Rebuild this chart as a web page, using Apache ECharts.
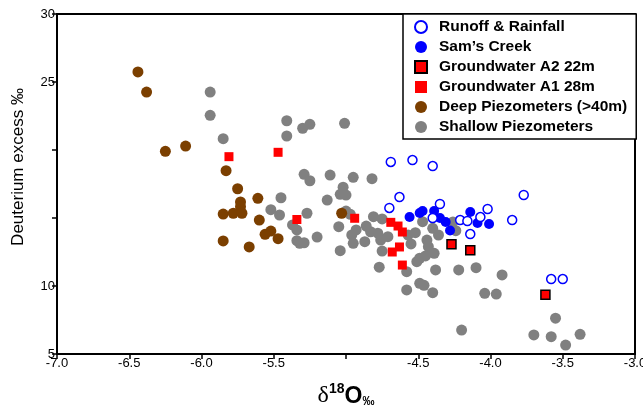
<!DOCTYPE html>
<html>
<head>
    <meta charset="utf-8">
    <title>Deuterium excess vs d18O</title>
    <script src="https://cdn.jsdelivr.net/npm/echarts@6/dist/echarts.min.js"></script>
    <style>
        html, body { margin: 0; padding: 0; background: #fff; }
        #chart { width: 643px; height: 410px; }
    </style>
</head>
<body>
<div id="chart"></div>
<script>
    // [d18O, d-excess]
    var shallow = [
        [-5.94, 24.26], [-5.94, 22.55], [-5.85, 20.83], [-5.41, 22.15], [-5.30, 21.60],
        [-5.25, 21.89], [-5.41, 21.03], [-5.01, 21.96], [-5.29, 18.21], [-5.25, 17.74],
        [-5.11, 18.16], [-4.95, 17.99], [-4.82, 17.89], [-5.02, 17.26], [-5.04, 16.74],
        [-5.00, 16.69], [-5.13, 16.32], [-5.45, 16.49], [-5.52, 15.61], [-5.46, 15.22],
        [-5.27, 15.35], [-5.37, 14.49], [-5.34, 14.12], [-5.34, 13.33], [-5.32, 13.14],
        [-5.29, 13.18], [-5.20, 13.60], [-5.00, 15.51], [-4.97, 15.27], [-4.81, 15.10],
        [-4.75, 14.93], [-5.05, 14.36], [-4.93, 14.12], [-4.86, 14.41], [-4.83, 13.99],
        [-4.96, 13.75], [-4.95, 13.14], [-4.87, 13.26], [-4.78, 13.88], [-4.71, 13.63],
        [-4.76, 13.38], [-4.55, 13.09], [-4.57, 13.75], [-4.52, 13.92], [-5.04, 12.60],
        [-4.75, 12.57], [-4.44, 13.38], [-4.43, 12.89], [-4.40, 14.24], [-4.39, 12.40],
        [-4.49, 12.04], [-4.51, 11.79], [-4.45, 12.21], [-4.77, 11.38], [-4.58, 11.05],
        [-4.49, 10.20], [-4.46, 10.05], [-4.40, 9.51], [-4.58, 9.71], [-4.38, 11.18],
        [-4.22, 11.18], [-4.47, 14.73], [-4.36, 13.75], [-4.10, 11.35], [-3.92, 10.81],
        [-4.04, 9.46], [-3.96, 9.41], [-4.20, 6.76], [-3.55, 7.63], [-3.70, 6.40],
        [-3.58, 6.27], [-3.48, 5.66], [-3.38, 6.45], [-4.24, 14.07], [-4.26, 14.71]
    ];
    var deep = [
        [-6.44, 25.74], [-6.38, 24.26], [-6.25, 19.90], [-6.11, 20.29], [-5.83, 18.48],
        [-5.75, 17.15], [-5.61, 16.45], [-5.73, 16.18], [-5.73, 15.83], [-5.85, 15.29],
        [-5.78, 15.35], [-5.72, 15.35], [-5.60, 14.85], [-5.52, 14.04], [-5.56, 13.80],
        [-5.47, 13.48], [-5.85, 13.31], [-5.67, 12.87], [-5.03, 15.35]
    ];
    var gwA1 = [
        [-5.81, 19.51], [-5.47, 19.83], [-5.34, 14.89], [-4.94, 14.98], [-4.69, 14.68],
        [-4.64, 14.41], [-4.61, 13.97], [-4.63, 12.87], [-4.68, 12.50], [-4.61, 11.54]
    ];
    var gwA2 = [[-4.27, 13.07], [-4.14, 12.63], [-3.62, 9.36]];
    var samsCreek = [
        [-4.56, 15.07], [-4.49, 15.37], [-4.47, 15.51], [-4.39, 15.51], [-4.35, 15.00],
        [-4.31, 14.71], [-4.28, 14.08], [-4.14, 15.44], [-4.09, 14.63], [-4.01, 14.56]
    ];
    var runoff = [
        [-4.69, 19.12], [-4.54, 19.26], [-4.40, 18.82], [-4.63, 16.54], [-4.70, 15.74],
        [-4.35, 16.03], [-4.40, 15.00], [-4.21, 14.85], [-4.16, 14.78], [-4.14, 13.82],
        [-4.07, 15.07], [-4.02, 15.66], [-3.85, 14.85], [-3.77, 16.69], [-3.58, 10.51],
        [-3.50, 10.51]
    ];
    var legendNames = ['Runoff & Rainfall', "Sam\u2019s Creek", 'Groundwater A2 22m',
        'Groundwater A1 28m', 'Deep Piezometers (>40m)', 'Shallow Piezometers'];
    var hiddenXLabels = [-5];
    var hiddenYLabels = [15, 20];

    var chart = echarts.init(document.getElementById('chart'));
    var axisFont = { color: '#000', fontSize: 13, fontFamily: 'Arial, Liberation Sans' };

    chart.setOption({
        animation: false,
        grid: {
            left: 57, right: 8, top: 14, bottom: 56,
            outerBoundsMode: 'none',
            containLabel: false,
            show: true, borderColor: '#000', borderWidth: 2
        },
        legend: {
            data: legendNames,
            orient: 'vertical',
            left: 403, top: 14,
            padding: [3, 9, 2, 11],
            itemWidth: 12, itemHeight: 12, itemGap: 0,
            backgroundColor: '#fff',
            borderColor: '#000', borderWidth: 1.5,
            textStyle: {
                color: '#000', fontSize: 15.5, fontWeight: 'bold',
                fontFamily: 'Arial, Liberation Sans', lineHeight: 20,
                padding: [0, 0, 0, 7]
            }
        },
        xAxis: {
            type: 'value', min: -7, max: -3, interval: 0.5,
            name: '{d|\u03b4}{s|18}{o|O}{p|\u2030}',
            nameLocation: 'middle', nameGap: 28,
            nameTextStyle: {
                rich: {
                    d: { fontFamily: 'Liberation Serif, DejaVu Serif', fontSize: 24, color: '#000', verticalAlign: 'bottom', lineHeight: 26 },
                    s: { fontFamily: 'Arial, Liberation Sans', fontSize: 14, fontWeight: 'bold', color: '#000', verticalAlign: 'top', lineHeight: 26 },
                    o: { fontFamily: 'Arial, Liberation Sans', fontSize: 23, fontWeight: 'bold', color: '#000', verticalAlign: 'bottom', lineHeight: 26 },
                    p: { fontFamily: 'Arial, Liberation Sans', fontSize: 12, fontWeight: 'bold', color: '#000', verticalAlign: 'bottom', lineHeight: 26 }
                }
            },
            axisLine: { lineStyle: { color: '#000', width: 2 } },
            axisTick: { length: 5, lineStyle: { color: '#000', width: 1.5 } },
            axisLabel: Object.assign({
                margin: 3,
                formatter: function (v) {
                    return hiddenXLabels.indexOf(v) >= 0 ? '' : v.toFixed(1);
                }
            }, axisFont),
            splitLine: { show: false }
        },
        yAxis: {
            type: 'value', min: 5, max: 30, interval: 5,
            axisLine: { lineStyle: { color: '#000', width: 2 } },
            axisTick: { length: 5, lineStyle: { color: '#000', width: 1.5 } },
            axisLabel: Object.assign({
                margin: 2,
                formatter: function (v) {
                    return hiddenYLabels.indexOf(v) >= 0 ? '' : String(v);
                }
            }, axisFont),
            splitLine: { show: false }
        },
        graphic: [{
            type: 'text',
            x: 18, y: 167,
            rotation: Math.PI / 2,
            style: {
                text: 'Deuterium excess \u2030',
                fill: '#000',
                font: '17px Arial, Liberation Sans',
                align: 'center',
                verticalAlign: 'middle'
            }
        }],
        series: [
            {
                name: 'Shallow Piezometers', type: 'scatter', data: shallow,
                symbol: 'circle', symbolSize: 11,
                itemStyle: { color: '#808080', opacity: 1 }
            },
            {
                name: 'Deep Piezometers (>40m)', type: 'scatter', data: deep,
                symbol: 'circle', symbolSize: 11,
                itemStyle: { color: '#7b3f00', opacity: 1 }
            },
            {
                name: 'Groundwater A1 28m', type: 'scatter', data: gwA1,
                symbol: 'rect', symbolSize: 9,
                itemStyle: { color: '#ff0000', opacity: 1 }
            },
            {
                name: 'Groundwater A2 22m', type: 'scatter', data: gwA2,
                symbol: 'rect', symbolSize: 9,
                itemStyle: { color: '#ff0000', borderColor: '#000', borderWidth: 1.5, opacity: 1 }
            },
            {
                name: "Sam\u2019s Creek", type: 'scatter', data: samsCreek,
                symbol: 'circle', symbolSize: 10,
                itemStyle: { color: '#0000ff', opacity: 1 }
            },
            {
                name: 'Runoff & Rainfall', type: 'scatter', data: runoff,
                symbol: 'circle', symbolSize: 9,
                itemStyle: { color: '#fff', borderColor: '#0000ff', borderWidth: 1.5, opacity: 1 }
            }
        ]
    });
</script>
</body>
</html>
